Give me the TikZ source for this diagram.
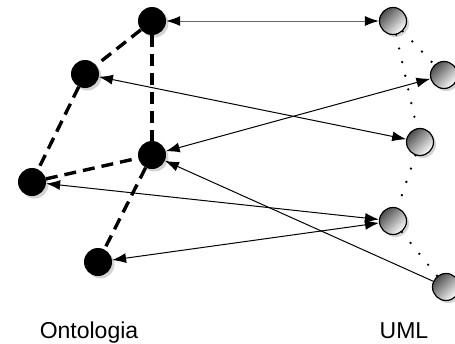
\documentclass[tikz,border=0pt]{standalone}
\usepackage{fontspec}
\setmainfont{Liberation Sans}
\usetikzlibrary{arrows.meta,shadows}

\begin{document}
\begin{tikzpicture}[x=1pt,y=-1pt,>={Latex[length=14pt,width=10pt]},
    onto/.style={circle,fill=black,minimum size=28pt,inner sep=0pt,
      drop shadow={opacity=0.35,shadow xshift=2.5pt,shadow yshift=-2.5pt}},
    uml/.style={circle,draw=black,line width=1.2pt,minimum size=27pt,inner sep=0pt,
      top color=black!70,bottom color=white,shading angle=45,
      drop shadow={opacity=0.35,shadow xshift=2.5pt,shadow yshift=-2.5pt}},
    tie/.style={line width=3.4pt,dash pattern=on 12pt off 7pt},
    dots/.style={line width=2.6pt,line cap=round,dash pattern=on 0pt off 14pt},
    link/.style={<->,line width=1pt},
    lbl/.style={font=\fontsize{23}{27}\selectfont}]
  \useasboundingbox (0,0) rectangle (455,343);
  % ontology side
  \node[onto] (ta) at (152,21) {};
  \node[onto] (tb) at (85,74) {};
  \node[onto] (tc) at (152,155) {};
  \node[onto] (td) at (32,182) {};
  \node[onto] (te) at (98,262) {};
  \draw[tie] (ta)--(tb);
  \draw[tie] (ta)--(tc);
  \draw[tie] (tb)--(td);
  \draw[tie] (td)--(tc);
  \draw[tie] (tc)--(te);
  % uml side
  \node[uml] (ua) at (393,21) {};
  \node[uml] (ub) at (444,75) {};
  \node[uml] (uc) at (420,142) {};
  \node[uml] (ud) at (393,221) {};
  \node[uml] (ue) at (446,287) {};
  \draw[dots] (ua)--(ub);
  \draw[dots] (ua)--(uc);
  \draw[dots] (uc)--(ud);
  \draw[dots] (ud)--(ue);
  % mappings
  \draw[line width=1pt,draw=black!60,
    {Latex[length=14pt,width=10pt,black]}-{Latex[length=14pt,width=10pt,black]}] (ta)--(ua);
  \draw[link] (tb)--(uc);
  \draw[link] (tc)--(ub);
  \draw[link] (td)--(ud);
  \draw[link] (te)--(ud);
  \draw[->,line width=1pt] (ue)--(tc);
  \node[lbl,anchor=base] (onto) at (89,338) {Ontologia};
  \node[lbl,anchor=base] (umllbl) at (404,338) {UML};
\end{tikzpicture}
\end{document}
